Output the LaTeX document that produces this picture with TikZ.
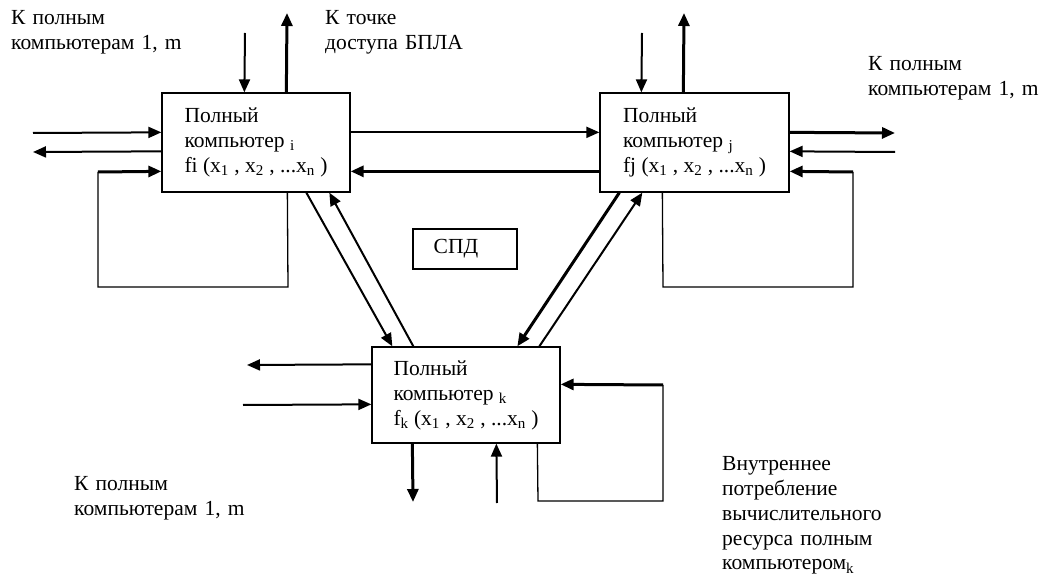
\documentclass[tikz,border=0pt]{standalone}
\usepackage{fontspec}
\setmainfont{Liberation Serif}[Ligatures=Common]
\usetikzlibrary{arrows.meta,calc}
\begin{document}
\begin{tikzpicture}[x=1pt,y=-1pt,
  every node/.style={font=\fontsize{21.5}{25}\selectfont},
  pcbox/.style={draw,line width=1.3pt,align=left,inner sep=0pt},
  txt/.style={align=left,inner sep=0pt,anchor=base west,text width=300pt},
  arr/.style={line width=2pt,-{Triangle[length=13pt,width=11pt]}},
  harr/.style={line width=3pt,-{Triangle[length=13pt,width=11pt]}},
  loopline/.style={line width=1.3pt}]
\useasboundingbox (0,0) rectangle (1050,577);
% boxes
\node[pcbox,minimum width=188pt,minimum height=99pt] (i) at (256,142.5)
  {Полный\\компьютер \textsubscript{i}\\fi (x\textsubscript{1} , x\textsubscript{2} , ...x\textsubscript{n} )};
\node[pcbox,minimum width=189pt,minimum height=99pt] (j) at (694.5,142.5)
  {Полный\\компьютер \textsubscript{j}\\fj (x\textsubscript{1} , x\textsubscript{2} , ...x\textsubscript{n} )};
\node[pcbox,minimum width=188pt,minimum height=96pt] (k) at (466,395)
  {Полный\\компьютер \textsubscript{k}\\f\textsubscript{k} (x\textsubscript{1} , x\textsubscript{2} , ...x\textsubscript{n} )};
\node[pcbox,minimum width=104pt,minimum height=40pt] (spd) at (465,249) {СПД\hspace{18pt}};
% labels
\node[txt] (t1) at (11,25) {К полным\\компьютерам 1, m};
\node[txt] (t2) at (325,25) {К точке\\доступа БПЛА};
\node[txt] (t3) at (868,71) {К полным\\компьютерам 1, m};
\node[txt] (t4) at (74,490) {К полным\\компьютерам 1, m};
\node[txt] (t5) at (722,470) {Внутреннее\\потребление\\вычислительного\\ресурса полным\\компьютером\textsubscript{k}};
% free ends
\coordinate (iin) at (245,33);
\coordinate (iout) at (287,13);
\coordinate (ilin) at (33,133);
\coordinate (ilout) at (33,152);
\coordinate (il1) at (288,287);
\coordinate (il2) at (98,287);
\coordinate (il3) at (98,172);
\coordinate (jin) at (642,33);
\coordinate (jout) at (684,13);
\coordinate (jrout) at (895,133);
\coordinate (jrin) at (895,152);
\coordinate (jl1) at (663,287);
\coordinate (jl2) at (853,287);
\coordinate (jl3) at (853,172);
\coordinate (klout) at (247,365);
\coordinate (klin) at (243,405);
\coordinate (kl1) at (538,501);
\coordinate (kl2) at (663,501);
\coordinate (kl3) at (663,385);
\coordinate (kbout) at (413,502);
\coordinate (kbin) at (497,503);
% box i
\draw[arr] (iin) -- ($(i.north west)+(83,0)$);
\draw[harr] ($(i.north west)+(125,0)$) -- (iout);
\draw[arr] (ilin) -- ($(i.north west)+(0,40)$);
\draw[arr] ($(i.north west)+(0,59)$) -- (ilout);
\draw[loopline] ($(i.south west)+(126,0)$) -- (il1) -- (il2) -- (il3);
\draw[harr] (il3) -- ($(i.north west)+(0,79)$);
\draw[arr] ($(i.north east)+(0,40)$) -- ($(j.north west)+(0,40)$);
\draw[harr] ($(j.north west)+(0,79)$) -- ($(i.north east)+(0,79)$);
% diagonals
\draw[arr] ($(i.south west)+(145,0)$) -- ($(k.north west)+(21,0)$);
\draw[arr] ($(k.north west)+(42,0)$) -- ($(i.south west)+(168,0)$);
\draw[harr] ($(j.south west)+(20,0)$) -- ($(k.north west)+(146,0)$);
\draw[arr] ($(k.north west)+(168,0)$) -- ($(j.south west)+(43,0)$);
% box j
\draw[arr] (jin) -- ($(j.north west)+(42,0)$);
\draw[harr] ($(j.north west)+(84,0)$) -- (jout);
\draw[harr] ($(j.north east)+(0,40)$) -- (jrout);
\draw[arr] (jrin) -- ($(j.north east)+(0,59)$);
\draw[loopline] ($(j.south west)+(63,0)$) -- (jl1) -- (jl2) -- (jl3);
\draw[harr] (jl3) -- ($(j.north east)+(0,79)$);
% box k
\draw[arr] ($(k.north west)+(0,18)$) -- (klout);
\draw[arr] (klin) -- ($(k.north west)+(0,58)$);
\draw[loopline] ($(k.south west)+(166,0)$) -- (kl1) -- (kl2) -- (kl3);
\draw[harr] (kl3) -- ($(k.north east)+(0,38)$);
\draw[harr] ($(k.south west)+(41,0)$) -- (kbout);
\draw[arr] (kbin) -- ($(k.south west)+(125,0)$);
\end{tikzpicture}
\end{document}
